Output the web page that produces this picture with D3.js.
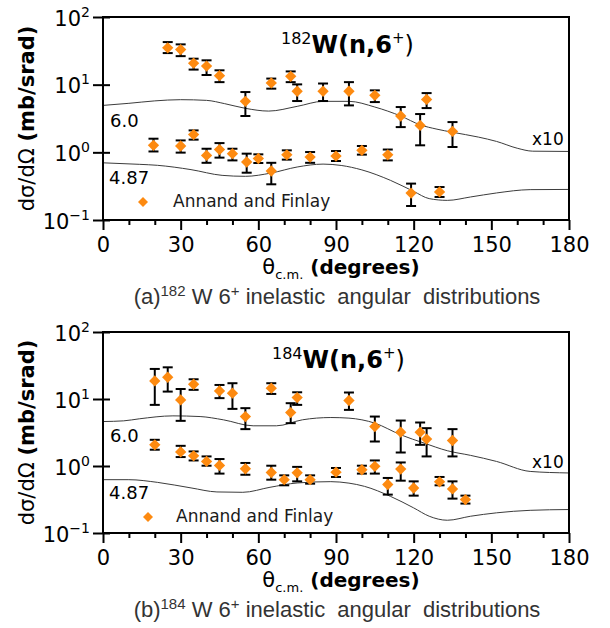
<!DOCTYPE html>
<meta charset="utf-8">
<script src="https://d3js.org/d3.v7.min.js"></script>
<style>
  body { margin: 0; background: #fff; }
  text { font-family: "DejaVu Sans", sans-serif; }
</style>
<svg id="chart" width="610" height="628"></svg>

<script>

// ---- 182W data (Annand and Finlay), upper set is x10 ----
var w182HiTheta = [25, 30, 35, 40, 45, 55, 65, 72.5, 75, 85, 95, 105, 115, 122.5, 125, 135];
var w182HiXs    = [35, 33, 20.8, 18.8, 13.6, 5.67, 10.6, 13.3, 8.0, 8.0, 8.0, 6.95, 3.44, 2.5, 6.06, 2.04];
var w182HiLo    = [29.3, 26.4, 16.7, 13.9, 10.9, 3.44, 8.73, 10.9, 5.73, 5.73, 4.94, 5.53, 2.36, 1.27, 4.51, 1.2];
var w182HiHi    = [42.6, 39.4, 24.2, 22.9, 16.3, 7.78, 12.3, 15.7, 10.1, 10.4, 10.9, 8.24, 4.67, 3.68, 7.51, 2.8];

var w182LoTheta = [19.5, 30, 35, 40, 45, 50, 55.5, 60, 65, 71, 80, 90, 100, 110, 119, 130];
var w182LoXs    = [1.27, 1.24, 1.83, 0.9, 1.1, 0.955, 0.72, 0.81, 0.53, 0.92, 0.85, 0.88, 1.07, 0.92, 0.25, 0.26];
var w182LoLo    = [1.03, 0.99, 1.54, 0.70, 0.835, 0.76, 0.50, 0.695, 0.337, 0.78, 0.70, 0.744, 0.925, 0.76, 0.161, 0.219];
var w182LoHi    = [1.59, 1.5, 2.11, 1.13, 1.37, 1.13, 0.956, 0.934, 0.70, 1.07, 1.01, 1.045, 1.24, 1.1, 0.345, 0.307];

// calculations (6.0 x10 and 4.87)
var w182CalcHiTheta = [0, 10, 20, 30, 40, 47, 55, 64, 75, 85, 95, 105, 115, 122.5, 129, 135, 145, 152, 160, 166, 180];
var w182CalcHiVals  = [4.94, 5.3, 5.76, 6.0, 5.86, 5.24, 4.47, 4.07, 4.78, 5.67, 5.67, 4.67, 3.44, 2.55, 2.2, 1.98, 1.68, 1.45, 1.15, 1.04, 1.03];
var w182CalcLoTheta = [0, 14, 21, 34, 46, 55, 65, 75, 85, 92, 100, 111, 120, 126, 133, 142, 152, 165, 180];
var w182CalcLoVals  = [0.70, 0.665, 0.643, 0.555, 0.457, 0.442, 0.495, 0.607, 0.67, 0.64, 0.55, 0.386, 0.265, 0.207, 0.195, 0.219, 0.251, 0.281, 0.283];

// ---- 184W data ----
var w184HiTheta = [20, 25, 30, 35, 45, 50, 55, 65, 72.5, 75, 95, 105, 115, 122.5, 125, 135];
var w184HiXs    = [18.6, 21.1, 9.7, 16.6, 13.2, 12.2, 5.47, 14.5, 6.28, 10.5, 9.5, 3.88, 3.2, 3.2, 2.52, 2.4];
var w184HiLo    = [8.17, 12.9, 4.72, 13.7, 10.3, 7.12, 3.55, 11.9, 4.36, 8.17, 6.88, 2.32, 1.59, 2.07, 1.39, 1.39];
var w184HiHi    = [28.1, 29.7, 14.1, 19.7, 16.2, 17.2, 7.3, 17.2, 8.66, 12.6, 12.5, 5.47, 4.77, 4.46, 3.67, 3.55];

var w184LoTheta = [20, 30, 35, 40, 45, 55, 65, 70, 75, 80, 90, 100, 105, 110, 115, 120, 130, 135, 140];
var w184LoXs    = [2.07, 1.62, 1.42, 1.17, 1.02, 0.91, 0.80, 0.625, 0.79, 0.625, 0.81, 0.88, 0.99, 0.53, 0.90, 0.47, 0.58, 0.455, 0.315];
var w184LoLo    = [1.75, 1.36, 1.21, 1.01, 0.77, 0.74, 0.625, 0.515, 0.59, 0.545, 0.686, 0.77, 0.77, 0.374, 0.604, 0.361, 0.515, 0.326, 0.275];
var w184LoHi    = [2.46, 2.0, 1.65, 1.39, 1.27, 1.11, 1.01, 0.725, 0.97, 0.725, 0.934, 1.01, 1.21, 0.663, 1.13, 0.59, 0.686, 0.59, 0.361];

var w184CalcHiTheta = [0, 8, 14, 27, 37.5, 46.5, 58, 67, 77, 88, 95, 105, 115, 124, 133, 142, 152, 165, 180];
var w184CalcHiVals  = [4.61, 4.72, 5.06, 5.6, 5.47, 4.89, 3.98, 3.98, 4.89, 5.29, 5.18, 4.36, 2.92, 2.2, 1.69, 1.44, 1.17, 0.83, 0.787];
var w184CalcLoTheta = [0, 10, 21, 34, 44, 54, 64.5, 75, 88, 95, 101, 111, 120, 126, 133, 142, 152, 165, 180];
var w184CalcLoVals  = [0.625, 0.625, 0.570, 0.471, 0.410, 0.405, 0.481, 0.558, 0.584, 0.555, 0.497, 0.353, 0.237, 0.178, 0.155, 0.178, 0.2, 0.218, 0.224];

// axis ticks
var xTicks = d3.range(0, 181, 10);
var yTicks = [0.1, 1, 10, 100];
var yTickExp = ["-1", "0", "1", "2"];

var svg = d3.select("#chart");
var orange = "#fd8a10";

var panels = [
  { iso: "182", tag: "a", top: 17, bottom: 220, titleX: 281, legX: 143, legTextX: 173, x10dy: 128,
    sets: [[w182HiTheta, w182HiXs, w182HiLo, w182HiHi], [w182LoTheta, w182LoXs, w182LoLo, w182LoHi]],
    calcs: [[w182CalcHiTheta, w182CalcHiVals], [w182CalcLoTheta, w182CalcLoVals]] },
  { iso: "184", tag: "b", top: 332, bottom: 533, titleX: 272, legX: 148, legTextX: 176, x10dy: 136,
    sets: [[w184HiTheta, w184HiXs, w184HiLo, w184HiHi], [w184LoTheta, w184LoXs, w184LoLo, w184LoHi]],
    calcs: [[w184CalcHiTheta, w184CalcHiVals], [w184CalcLoTheta, w184CalcLoVals]] }
];

panels.forEach(drawPanel);

function drawPanel(p) {
  var x = d3.scaleLinear().domain([0, 180]).range([103, 569]);
  var y = d3.scaleLog().domain([0.1, 100]).range([p.bottom, p.top]);
  var g = svg.append("g");

  // calculated curves
  var line = d3.line()
    .x(function(d){ return x(d[0]) })
    .y(function(d){ return y(d[1]) })
    .curve(d3.curveMonotoneX);
  p.calcs.forEach(function(c){
    g.append("path")
      .datum(d3.zip(c[0], c[1]))
      .attr("d", line)
      .attr("fill", "none")
      .attr("stroke", "#3c3c3c")
      .attr("stroke-width", 1);
  });

  // data with error bars
  var diamond = d3.symbol().type(d3.symbolSquare).size(64);
  p.sets.forEach(function(s){
    var pts = s[0].map(function(t, i){ return { t: t, v: s[1][i], lo: s[2][i], hi: s[3][i] } });
    var eb = g.append("g").selectAll("g").data(pts).join("g")
      .attr("stroke", "black").attr("stroke-width", 2);
    eb.append("line")
      .attr("x1", function(d){ return x(d.t) }).attr("x2", function(d){ return x(d.t) })
      .attr("y1", function(d){ return y(d.lo) }).attr("y2", function(d){ return y(d.hi) });
    eb.append("line")
      .attr("x1", function(d){ return x(d.t) - 5 }).attr("x2", function(d){ return x(d.t) + 5 })
      .attr("y1", function(d){ return y(d.lo) }).attr("y2", function(d){ return y(d.lo) });
    eb.append("line")
      .attr("x1", function(d){ return x(d.t) - 5 }).attr("x2", function(d){ return x(d.t) + 5 })
      .attr("y1", function(d){ return y(d.hi) }).attr("y2", function(d){ return y(d.hi) });
    g.append("g").selectAll("path").data(pts).join("path")
      .attr("d", diamond)
      .attr("transform", function(d){ return "translate(" + x(d.t) + "," + y(d.v) + ") rotate(45)" })
      .attr("fill", orange);
  });

  // frame
  g.append("rect")
    .attr("x", 103).attr("y", p.top)
    .attr("width", 466).attr("height", p.bottom - p.top)
    .attr("fill", "none").attr("stroke", "black").attr("stroke-width", 2);

  // y axis
  var ya = g.append("g").attr("transform", "translate(103,0)")
    .call(d3.axisLeft(y).tickValues(yTicks).tickSize(10).tickFormat(""));
  ya.select(".domain").remove();
  ya.selectAll(".tick line").attr("x1", 7).attr("stroke-width", 2);

  var yl = g.selectAll(".ylab").data(yTicks).join("text")
    .attr("x", 90)
    .attr("y", function(d){ return y(d) + 8.5 })
    .attr("text-anchor", "end")
    .style("font-size", "21px");
  yl.append("tspan").text("10");
  yl.append("tspan").attr("dy", -9).style("font-size", "14px")
    .text(function(d, i){ return yTickExp[i].replace("-", "\u2212") });

  // x axis
  var xa = g.append("g").attr("transform", "translate(0," + p.bottom + ")")
    .call(d3.axisBottom(x).tickValues(xTicks).tickSize(10)
      .tickFormat(function(d){ return d % 30 === 0 ? d : "" }));
  xa.select(".domain").remove();
  xa.selectAll(".tick line")
    .attr("y2", function(d){ return d % 30 === 0 ? 10 : 5 })
    .attr("stroke-width", 2);
  xa.selectAll(".tick text")
    .attr("y", 0).attr("dy", 0)
    .attr("transform", "translate(0,32)")
    .style("font-family", "DejaVu Sans").style("font-size", "21px").attr("fill", "black");

  // title
  var t = g.append("text").attr("x", p.titleX).attr("y", p.top + 36);
  t.append("tspan").attr("dy", -9).style("font-size", "16px").text(p.iso);
  t.append("tspan").attr("dy", 9).style("font-size", "24px").style("font-weight", "bold").text("W(n,6");
  t.append("tspan").attr("dy", -10).style("font-size", "15px").text("+");
  t.append("tspan").attr("dy", 10).style("font-size", "24px").text(")");

  // curve labels
  g.append("text").attr("x", 110).attr("y", p.top + 110).style("font-size", "18px").text("6.0");
  g.append("text").attr("x", 109).attr("y", p.top + 167).style("font-size", "18px").text("4.87");
  g.append("text").attr("x", 532).attr("y", p.top + p.x10dy).style("font-size", "17px").text("x10");

  // legend
  g.append("path").attr("d", d3.symbol().type(d3.symbolSquare).size(50))
    .attr("transform", "translate(" + p.legX + "," + (p.top + 185) + ") rotate(45)")
    .attr("fill", orange);
  g.append("text").attr("x", p.legTextX).attr("y", p.top + 190)
    .style("font-size", "17px").attr("fill", "#1a1a1a").text("Annand and Finlay");

  // y axis title
  var yt = g.append("text")
    .attr("transform", "translate(34," + ((p.top + p.bottom) / 2) + ") rotate(-90)")
    .attr("text-anchor", "middle").style("font-size", "21px");
  yt.append("tspan").text("d\u03c3/d\u03a9 ");
  yt.append("tspan").style("font-weight", "bold").text("(mb/srad)");

  // x axis title
  var xt = g.append("text").attr("x", 341).attr("y", p.bottom + 54)
    .attr("text-anchor", "middle").style("font-size", "21px");
  xt.append("tspan").text("\u03b8");
  xt.append("tspan").attr("dy", 5).style("font-size", "13px").text("c.m.");
  xt.append("tspan").attr("dy", -5).style("font-weight", "bold").style("font-size", "20px").text(" (degrees)");

  // caption
  var cap = g.append("text").attr("x", 337).attr("y", p.bottom + 84)
    .attr("text-anchor", "middle").attr("fill", "#333")
    .style("font-family", "Liberation Sans, Arial, sans-serif").style("font-size", "22px")
    .style("white-space", "pre");
  cap.append("tspan").text("(" + p.tag + ")");
  cap.append("tspan").attr("dy", -8).style("font-size", "15px").text(p.iso);
  cap.append("tspan").attr("dy", 8).text(" W 6");
  cap.append("tspan").attr("dy", -8).style("font-size", "15px").text("+");
  cap.append("tspan").attr("dy", 8).text(" inelastic  angular  distributions");
}

</script>
